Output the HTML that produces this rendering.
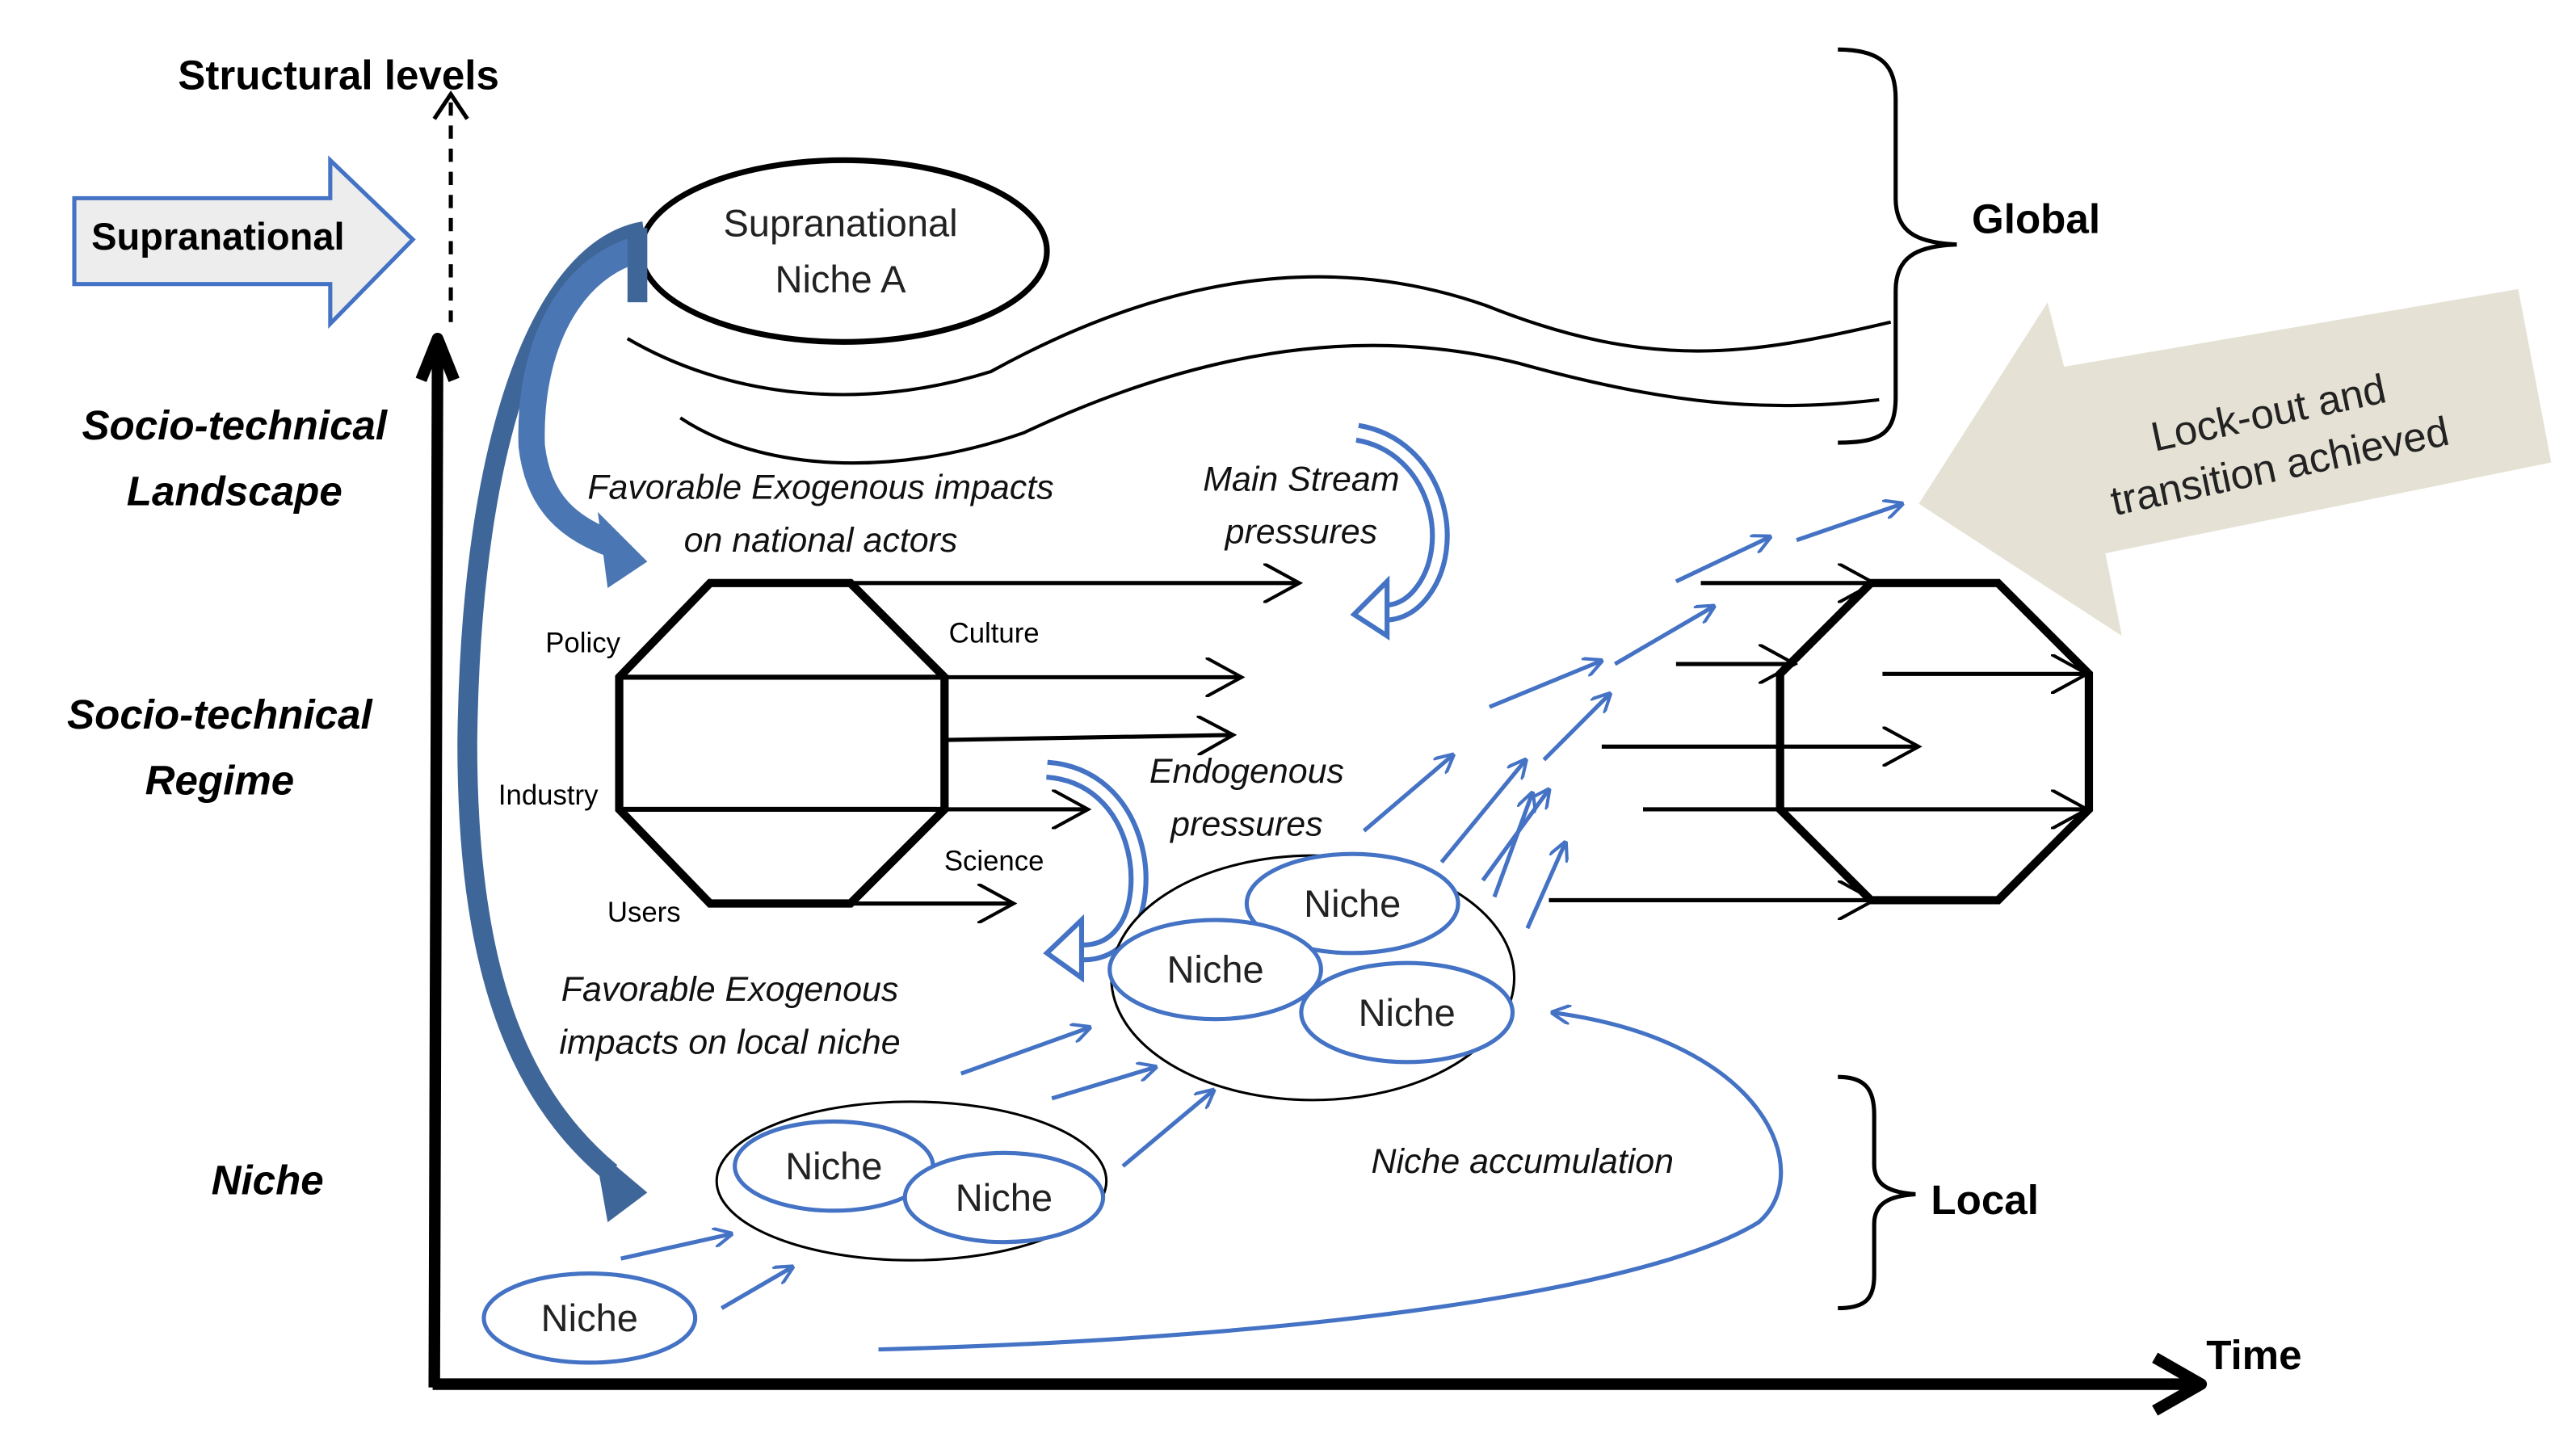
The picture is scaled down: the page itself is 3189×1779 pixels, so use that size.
<!DOCTYPE html>
<html><head><meta charset="utf-8"><style>
html,body{margin:0;padding:0;background:#fff;}
svg{display:block;}
text{font-family:"Liberation Sans","DejaVu Sans",sans-serif;}
.b{font-weight:bold;}
.it{font-style:italic;}
</style></head><body>
<svg width="3189" height="1779" viewBox="0 0 1560 870" preserveAspectRatio="none" xmlns="http://www.w3.org/2000/svg">
<defs>
<marker id="ahb" markerWidth="12" markerHeight="12" refX="11" refY="6" orient="auto" markerUnits="userSpaceOnUse">
<path d="M0,0 L12,6 L0,12" fill="none" stroke="#4472c4" stroke-width="2"/></marker>
<marker id="ahl" markerWidth="24" markerHeight="24" refX="20" refY="12" orient="auto" markerUnits="userSpaceOnUse">
<path d="M0,0 L22,12 L0,24" fill="none" stroke="#000" stroke-width="2"/></marker>
</defs>
<rect width="1560" height="870" fill="#fff"/>

<text x="205" y="54" class="b" font-size="25" text-anchor="middle">Structural levels</text>
<line x1="273" y1="62" x2="273" y2="195" stroke="#000" stroke-width="2.5" stroke-dasharray="8,6"/>
<path d="M263,72 L273,57 L283,72" fill="none" stroke="#000" stroke-width="2.5"/>
<line x1="265" y1="210" x2="263" y2="840" stroke="#000" stroke-width="7"/>
<path d="M255,230 L265,205 L275,230" fill="none" stroke="#000" stroke-width="7" stroke-linejoin="round"/>
<line x1="262" y1="838" x2="1330" y2="838" stroke="#000" stroke-width="7"/>
<path d="M1305,822 L1333,838 L1305,854" fill="none" stroke="#000" stroke-width="7" stroke-linejoin="round"/>
<text x="1365" y="829" class="b" font-size="25" text-anchor="middle">Time</text>

<path d="M45,120 L200,120 L200,97 L250,145 L200,196 L200,172 L45,172 Z" fill="#ededed" stroke="#4472c4" stroke-width="2.5"/>
<text x="132" y="151" class="b" font-size="23" text-anchor="middle">Supranational</text>

<text x="142" y="266" class="b it" font-size="25" text-anchor="middle">Socio-technical</text>
<text x="142" y="306" class="b it" font-size="25" text-anchor="middle">Landscape</text>
<text x="133" y="441" class="b it" font-size="25" text-anchor="middle">Socio-technical</text>
<text x="133" y="481" class="b it" font-size="25" text-anchor="middle">Regime</text>
<text x="162" y="723" class="b it" font-size="25" text-anchor="middle">Niche</text>

<ellipse cx="511" cy="152" rx="123" ry="55" fill="#fff" stroke="#000" stroke-width="3.5"/>
<text x="509" y="143" font-size="23" text-anchor="middle" fill="#222">Supranational</text>
<text x="509" y="177" font-size="23" text-anchor="middle" fill="#222">Niche A</text>

<path d="M380,205 C440,240 520,250 600,225 C700,170 800,150 900,185 C1000,225 1060,215 1145,195" fill="none" stroke="#000" stroke-width="2"/>
<path d="M412,253 C460,285 540,290 620,262 C720,215 820,195 920,220 C1010,245 1070,250 1138,242" fill="none" stroke="#000" stroke-width="2"/>

<path d="M1113,30 C1140,30 1148,40 1148,60 L1148,120 C1148,140 1160,147 1185,148 C1160,149 1148,156 1148,176 L1148,240 C1148,262 1140,268 1113,268" fill="none" stroke="#000" stroke-width="2.5"/>
<text x="1233" y="141" class="b" font-size="25" text-anchor="middle">Global</text>

<polygon points="1162,305 1240,183 1250,222 1525,175 1545,280 1275,335 1285,385" fill="#e5e2d5"/>
<g transform="translate(1378,270) rotate(-12)">
<text x="0" y="-12" font-size="25" text-anchor="middle" fill="#222">Lock-out and</text>
<text x="0" y="21" font-size="25" text-anchor="middle" fill="#222">transition achieved</text>
</g>

<path d="M390,140 C330,150 285,260 283,450 C283,580 310,660 370,710" fill="none" stroke="#3f6698" stroke-width="12"/>
<polygon points="360,695 392,722 368,740" fill="#3f6698"/>
<path d="M390,150 C345,160 320,210 322,270 C326,305 345,320 372,330" fill="none" stroke="#4a77b4" stroke-width="16"/>
<polygon points="362,310 392,340 368,356" fill="#4a77b4"/>
<rect x="380" y="138" width="12" height="45" fill="#3f6698"/>

<text x="497" y="302" class="it" font-size="21" text-anchor="middle" fill="#111">Favorable Exogenous impacts</text>
<text x="497" y="334" class="it" font-size="21" text-anchor="middle" fill="#111">on national actors</text>
<text x="788" y="297" class="it" font-size="21" text-anchor="middle" fill="#111">Main Stream</text>
<text x="788" y="329" class="it" font-size="21" text-anchor="middle" fill="#111">pressures</text>

<path d="M822,262 C870,270 885,330 860,360 C850,372 838,372 830,370" fill="none" stroke="#4472c4" stroke-width="12"/>
<path d="M822,262 C870,270 885,330 860,360 C850,372 838,372 830,370" fill="none" stroke="#fff" stroke-width="6"/>
<polygon points="820,372 840,352 840,385" fill="#fff" stroke="#4472c4" stroke-width="3"/>
<path d="M634,466 C690,470 700,540 680,565 C670,578 655,578 645,575" fill="none" stroke="#4472c4" stroke-width="12"/>
<path d="M634,466 C690,470 700,540 680,565 C670,578 655,578 645,575" fill="none" stroke="#fff" stroke-width="6"/>
<polygon points="634,577 655,557 655,592" fill="#fff" stroke="#4472c4" stroke-width="3"/>

<polygon points="430,353 515,353 572,410 572,490 515,547 430,547 375,490 375,410" fill="#fff" stroke="#000" stroke-width="5"/>
<line x1="375" y1="410" x2="572" y2="410" stroke="#000" stroke-width="3"/>
<line x1="375" y1="490" x2="572" y2="490" stroke="#000" stroke-width="3"/>
<g stroke="#000" stroke-width="2.5" marker-end="url(#ahl)">
<line x1="430" y1="353" x2="785" y2="353"/>
<line x1="572" y1="410" x2="750" y2="410"/>
<line x1="572" y1="448" x2="745" y2="445"/>
<line x1="375" y1="490" x2="657" y2="490"/>
<line x1="515" y1="547" x2="612" y2="547"/>
</g>
<text x="353" y="395" font-size="17" text-anchor="middle">Policy</text>
<text x="602" y="389" font-size="17" text-anchor="middle">Culture</text>
<text x="332" y="487" font-size="17" text-anchor="middle">Industry</text>
<text x="602" y="527" font-size="17" text-anchor="middle">Science</text>
<text x="390" y="558" font-size="17" text-anchor="middle">Users</text>
<text x="755" y="474" class="it" font-size="21" text-anchor="middle" fill="#111">Endogenous</text>
<text x="755" y="506" class="it" font-size="21" text-anchor="middle" fill="#111">pressures</text>

<polygon points="1133,353 1210,353 1265,408 1265,490 1210,545 1133,545 1078,490 1078,408" fill="none" stroke="#000" stroke-width="5"/>
<g stroke="#000" stroke-width="2.5" marker-end="url(#ahl)">
<line x1="1030" y1="353" x2="1133" y2="353"/>
<line x1="1015" y1="402" x2="1085" y2="402"/>
<line x1="1140" y1="408" x2="1262" y2="408"/>
<line x1="970" y1="452" x2="1160" y2="452"/>
<line x1="995" y1="490" x2="1262" y2="490"/>
<line x1="938" y1="545" x2="1133" y2="545"/>
</g>

<ellipse cx="795" cy="592" rx="122" ry="74" fill="#fff" stroke="#000" stroke-width="1.5"/>
<ellipse cx="819" cy="547" rx="64" ry="30" fill="#fff" stroke="#4472c4" stroke-width="2.5"/>
<ellipse cx="736" cy="587" rx="64" ry="30" fill="#fff" stroke="#4472c4" stroke-width="2.5"/>
<ellipse cx="852" cy="613" rx="64" ry="30" fill="#fff" stroke="#4472c4" stroke-width="2.5"/>
<text x="819" y="555" font-size="23" text-anchor="middle" fill="#222">Niche</text>
<text x="736" y="595" font-size="23" text-anchor="middle" fill="#222">Niche</text>
<text x="852" y="621" font-size="23" text-anchor="middle" fill="#222">Niche</text>

<ellipse cx="552" cy="715" rx="118" ry="48" fill="#fff" stroke="#000" stroke-width="1.5"/>
<ellipse cx="505" cy="706" rx="60" ry="27" fill="#fff" stroke="#4472c4" stroke-width="2.5"/>
<ellipse cx="608" cy="725" rx="60" ry="27" fill="#fff" stroke="#4472c4" stroke-width="2.5"/>
<text x="505" y="714" font-size="23" text-anchor="middle" fill="#222">Niche</text>
<text x="608" y="733" font-size="23" text-anchor="middle" fill="#222">Niche</text>

<ellipse cx="357" cy="798" rx="64" ry="27" fill="#fff" stroke="#4472c4" stroke-width="2.5"/>
<text x="357" y="806" font-size="23" text-anchor="middle" fill="#222">Niche</text>

<text x="442" y="606" class="it" font-size="21" text-anchor="middle" fill="#111">Favorable Exogenous</text>
<text x="442" y="638" class="it" font-size="21" text-anchor="middle" fill="#111">impacts on local niche</text>
<text x="922" y="710" class="it" font-size="21" text-anchor="middle" fill="#111">Niche accumulation</text>

<g stroke="#4472c4" stroke-width="2.5" marker-end="url(#ahb)">
<line x1="376" y1="762" x2="443" y2="747"/>
<line x1="437" y1="792" x2="480" y2="767"/>
<line x1="582" y1="650" x2="660" y2="622"/>
<line x1="637" y1="665" x2="700" y2="646"/>
<line x1="680" y1="706" x2="735" y2="660"/>
<line x1="826" y1="503" x2="880" y2="457"/>
<line x1="873" y1="522" x2="924" y2="460"/>
<line x1="898" y1="533" x2="938" y2="478"/>
<line x1="905" y1="543" x2="928" y2="480"/>
<line x1="925" y1="562" x2="948" y2="510"/>
<line x1="935" y1="460" x2="975" y2="420"/>
<line x1="902" y1="428" x2="970" y2="400"/>
<line x1="978" y1="402" x2="1038" y2="367"/>
<line x1="1015" y1="352" x2="1072" y2="325"/>
<line x1="1088" y1="327" x2="1152" y2="305"/>
</g>
<path d="M532,817 C800,810 1000,780 1065,740 C1100,710 1070,630 940,613" fill="none" stroke="#4472c4" stroke-width="2.5" marker-end="url(#ahb)"/>

<path d="M1113,652 C1130,652 1135,660 1135,675 L1135,705 C1135,718 1145,722 1160,723 C1145,724 1135,728 1135,741 L1135,772 C1135,786 1130,792 1113,792" fill="none" stroke="#000" stroke-width="2.5"/>
<text x="1202" y="735" class="b" font-size="25" text-anchor="middle">Local</text>
</svg>
</body></html>
